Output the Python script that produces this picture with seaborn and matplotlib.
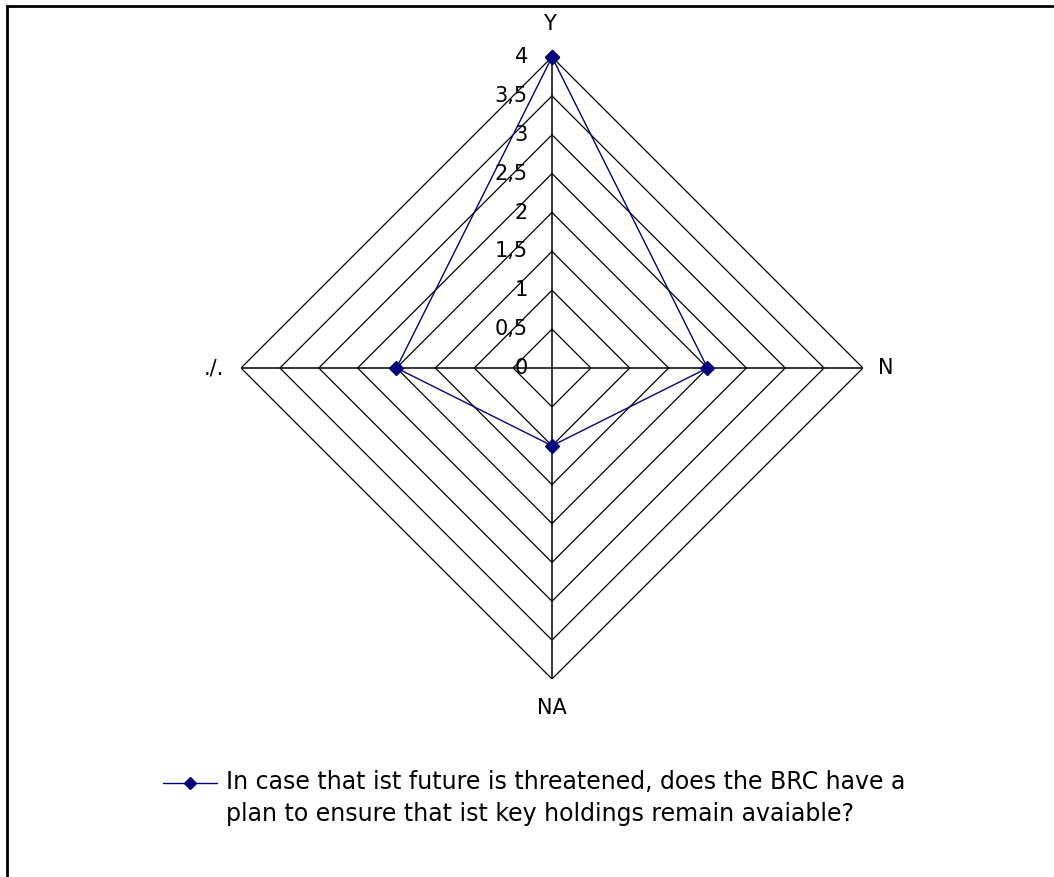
import numpy as np
import matplotlib
matplotlib.use("Agg")
import matplotlib.pyplot as plt
import seaborn as sns
from matplotlib.patches import Rectangle

# data
categories = ["Y", "N", "NA", "./."]
values = [4, 2, 1, 2]
levels = [0, 0.5, 1, 1.5, 2, 2.5, 3, 3.5, 4]
level_labels = ["0", "0,5", "1", "1,5", "2", "2,5", "3", "3,5", "4"]
series_label = ("In case that ist future is threatened, does the BRC have a\n"
                "plan to ensure that ist key holdings remain avaiable?")

sns.set_style("white")
plt.rcParams['font.family'] = ['DejaVu Sans']

W, H = 1054, 877
fig = plt.figure(figsize=(W / 100, H / 100), dpi=100)

# polar axes centred at (552, 368) px, radius 311 px for r=4
cx, cy, rad = 552, 368, 311
ax = fig.add_axes([(cx - rad) / W, (H - cy - rad) / H, 2 * rad / W, 2 * rad / H],
                  projection='polar')
ax.set_theta_zero_location('N')
ax.set_theta_direction(-1)
ax.grid(False)
ax.set_xticks([])
ax.set_yticks([])
ax.spines['polar'].set_visible(False)
ax.patch.set_alpha(0)

angles = [2 * np.pi * i / len(categories) for i in range(len(categories))]
ang_closed = angles + angles[:1]

# ring grid (straight-sided diamonds)
for lv in levels[1:]:
    ax.plot(ang_closed, [lv] * len(ang_closed), color='black', lw=0.9, zorder=1)
# spokes
for a in angles:
    ax.plot([a, a], [0, levels[-1]], color='black', lw=1.1, zorder=1)

# data series
vals_closed = values + values[:1]
sns.lineplot(x=ang_closed, y=vals_closed, sort=False, estimator=None, ax=ax,
             color='#000080', lw=1, marker='D', markersize=7,
             markeredgecolor='#000080', markeredgewidth=1,
             label=series_label, zorder=3, clip_on=False)
ax.set_ylim(0, levels[-1])

# radial tick labels along the Y spoke
for lv, lab in zip(levels, level_labels):
    ax.annotate(lab, xy=(0, lv), xytext=(-24, 0), textcoords='offset pixels',
                ha='right', va='center', fontsize=15, color='black',
                annotation_clip=False)

# category labels
offsets = {"Y": (-3, 23, 'center', 'bottom'),
           "N": (15, 0, 'left', 'center'),
           "NA": (0, -19, 'center', 'top'),
           "./.": (-17, 0, 'right', 'center')}
for a, cat in zip(angles, categories):
    dx, dy, ha, va = offsets[cat]
    ax.annotate(cat, xy=(a, levels[-1]), xytext=(dx, dy), textcoords='offset pixels',
                ha=ha, va=va, fontsize=15, color='black', annotation_clip=False)

leg = ax.legend(loc='upper left', bbox_to_anchor=(163 / W, 1 - 758 / H),
                bbox_transform=fig.transFigure, frameon=False, fontsize=17,
                handlelength=2.3, handletextpad=0.38, borderpad=0,
                borderaxespad=0, handleheight=5.4, markerscale=0.9)
for t in leg.get_texts():
    t.set_linespacing(1.43)
    t.set_color('black')

# outer frame (only top and left edges visible in the reference)
fig.add_artist(Rectangle((7 / W, -0.1), 1.2, 1 - 6 / H + 0.1,
                         transform=fig.transFigure, fill=False,
                         edgecolor='black', lw=2))

fig.savefig("out.png", dpi=100)
